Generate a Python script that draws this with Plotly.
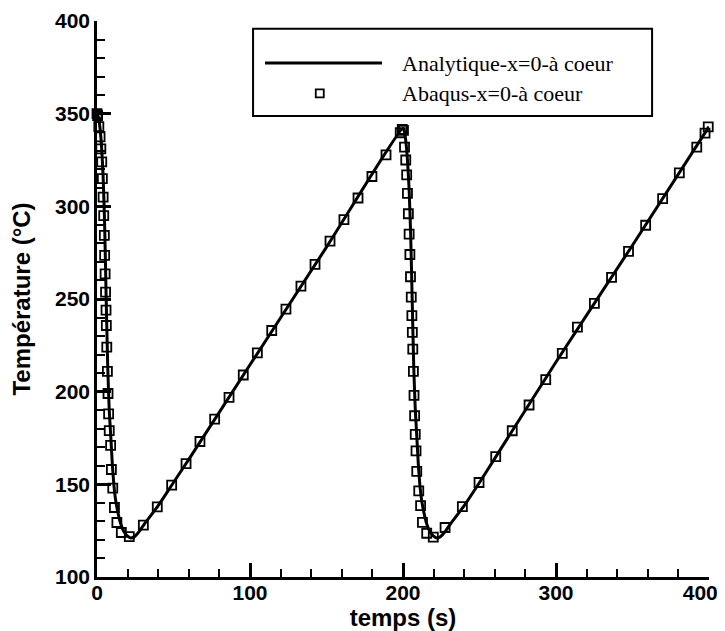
import plotly.graph_objects as go

# Analytical solution (line)
t_analytique = [0, 1, 2, 3, 4, 5, 6, 7, 8, 9, 10, 11, 12, 13, 14, 15, 16, 17, 18, 20, 22, 24, 26, 28, 30,
                40, 50, 60, 100, 150, 200,
                201, 202, 203, 204, 205, 206, 207, 208, 209, 210, 211, 212, 213, 214, 215, 216, 217, 218,
                220, 222, 224, 226, 228, 230, 240, 250, 260, 300, 350, 400]
T_analytique = [350, 348, 342, 332, 316, 290, 250, 214, 190, 176, 161, 150, 142.5, 137.5, 133.5, 130, 127.5,
                125.5, 124, 122, 121, 121.5, 123, 125, 127.5,
                138.5, 151, 163.5, 214.5, 278, 342,
                340, 334, 324, 309, 285, 250, 214, 191, 176, 161, 150, 142.5, 137.5, 133.5, 130, 127.5,
                125.5, 124, 122, 121, 121.5, 123, 125, 127.5, 138.5, 151, 164, 216, 279, 343]

# Abaqus results (markers)
t_abaqus = [0, 0.4, 1.2, 2.0, 2.5, 3.1, 3.5, 4.0, 4.4, 4.8, 5.0, 5.3, 5.6, 5.9, 6.1, 6.4, 6.8, 7.2, 7.6, 8.0,
            8.9, 9.4, 10.3, 11.4, 13.0, 15.9, 21.1,
            30.3, 39.4, 48.8, 58.2, 67.3, 76.9, 86.3, 95.6, 104.8, 114.2, 123.5, 133.3, 142.5, 152.3,
            161.4, 170.6, 179.7, 188.9, 198.2, 199.5,
            200.3, 201.0, 201.8, 202.4, 202.9, 203.5, 204.0, 204.5, 204.9, 205.4, 205.8, 206.1, 206.4,
            206.8, 207.2, 207.6, 208.0, 208.5, 209.0, 210.3, 211.5, 212.7, 215.5, 219.8,
            227.5, 238.8, 249.7, 260.6, 271.4, 282.4, 293.3, 304.1, 314.0, 325.1, 336.3, 347.4, 358.6,
            369.7, 380.6, 392.0, 397.4, 399.5]
T_abaqus = [350, 349, 343, 337.5, 331, 324, 315, 305, 295, 284.3, 273.5, 263.6, 253.7, 244, 235.7, 224, 211,
            199, 188, 179, 171, 158, 148, 137.5, 129.4, 124, 121.8,
            128, 137.8, 149.6, 161.2, 173.1, 185.2, 196.9, 209, 220.9, 233, 244.5, 257, 268.7, 281.2,
            292.8, 304.5, 316.1, 327.8, 339.7, 341.5,
            341, 332, 325, 317, 307, 296, 285, 274, 262, 251, 241, 232, 223, 211, 198, 187, 177, 168,
            157, 146.5, 138.5, 129.5, 123.6, 121.5,
            126.7, 138, 151, 165, 178.9, 192.8, 206.5, 220.7, 234.8, 247.6, 261.7, 275.7, 289.8,
            304.2, 318, 332, 339.5, 342.9]

legend_labels = ["Analytique-x=0-à coeur", "Abaqus-x=0-à coeur"]

# x tick labels; the last one is padded so it stays inside the page
x_tick_vals = [0, 100, 200, 300, 400]
x_tick_text = ['0', '100', '200', '300', '400\u00a0\u00a0\u00a0']

fig = go.Figure()

fig.add_trace(go.Scatter(
    x=t_analytique, y=T_analytique, mode='lines', name=legend_labels[0],
    line=dict(color='black', width=3, shape='spline', smoothing=0.6),
    cliponaxis=False, showlegend=False
))
fig.add_trace(go.Scatter(
    x=t_abaqus, y=T_abaqus, mode='markers', name=legend_labels[1],
    marker=dict(symbol='square-open', size=9, color='black', line=dict(width=1.8, color='black')),
    cliponaxis=False, showlegend=False
))

# Hand-drawn legend box (Tecplot style)
fig.add_shape(type='rect', xref='paper', yref='paper', x0=0.255, x1=0.907, y0=0.829, y1=0.986,
              line=dict(color='black', width=2), fillcolor='white', layer='below')
fig.add_shape(type='line', xref='paper', yref='paper', x0=0.2745, x1=0.4657, y0=0.9243, y1=0.9243,
              line=dict(color='black', width=3))
fig.add_shape(type='rect', xref='paper', yref='paper', xsizemode='pixel', ysizemode='pixel',
              xanchor=0.364, yanchor=0.870, x0=-4, x1=4, y0=-4, y1=4,
              line=dict(color='black', width=1.8))
for label, ypos in zip(legend_labels, [0.9243, 0.870]):
    fig.add_annotation(x=0.495, y=ypos, xref='paper', yref='paper', text=label, showarrow=False,
                       xanchor='left', yanchor='middle',
                       font=dict(family='Liberation Serif, Times New Roman, serif', size=22, color='black'))

axis_font = dict(family='Liberation Sans, Arial, sans-serif', size=21, color='black', weight='bold')
title_font = dict(family='Liberation Sans, Arial, sans-serif', size=24, color='black', weight='bold')

# the page body keeps its 8px default margin, so the figure is 8px smaller than the window
fig.update_layout(
    width=717, height=623,
    margin=dict(l=89, r=16, t=13, b=54, autoexpand=False),
    plot_bgcolor='white', paper_bgcolor='white',
    showlegend=False,
    xaxis=dict(
        range=[0, 400], tickmode='array', tickvals=x_tick_vals, ticktext=x_tick_text, automargin=False,
        showline=True, linecolor='black', linewidth=2.5, mirror=False,
        showgrid=False, zeroline=False,
        ticks='inside', ticklen=14, tickwidth=2.5, tickcolor='black',
        minor=dict(dtick=20, tick0=0, ticks='inside', ticklen=8, tickwidth=1.5, tickcolor='black',
                   showgrid=False),
        tickfont=axis_font, ticklabelstandoff=-5, ticklabeloverflow='allow',
        title=dict(text='temps (s)', font=title_font, standoff=8),
    ),
    yaxis=dict(
        range=[100, 400], dtick=50, tick0=100, automargin=False,
        showline=True, linecolor='black', linewidth=2.5, mirror=False,
        showgrid=False, zeroline=False,
        ticks='inside', ticklen=14, tickwidth=2.5, tickcolor='black',
        minor=dict(dtick=10, ticks='inside', ticklen=8, tickwidth=1.5, tickcolor='black', showgrid=False),
        tickfont=axis_font, ticklabeloverflow='allow',
        title=dict(text='Température (°C)', font=title_font, standoff=22),
    ),
)

fig.write_html("out.html")
